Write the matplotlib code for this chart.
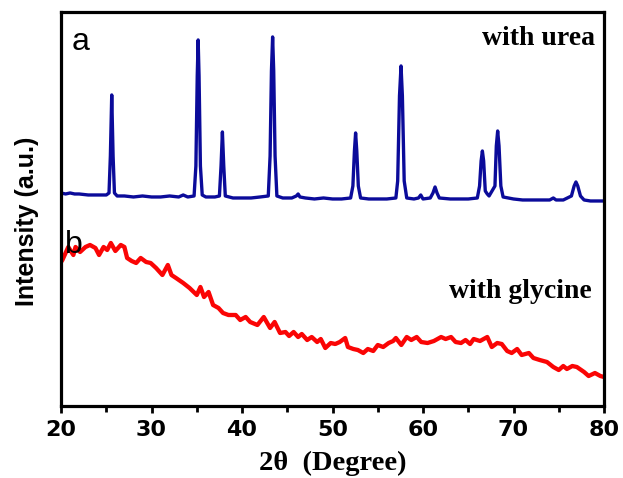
import matplotlib
matplotlib.use("Agg")
import matplotlib.pyplot as plt
from matplotlib.ticker import MultipleLocator

# (a) with urea: 2theta (deg) and intensity (a.u.)
urea_2theta = [
    20.0, 20.5, 21.0, 21.5, 22.0, 23.0, 24.0, 25.0, 25.3, 25.45, 25.6, 25.75, 25.9,
    26.2, 27.0, 28.0, 29.0, 30.0, 31.0, 32.0, 33.0, 33.5, 34.0, 34.7, 34.9, 35.05,
    35.15, 35.25, 35.4, 35.6, 36.0, 37.0, 37.5, 37.68, 37.83, 37.98, 38.15, 39.0,
    40.0, 41.0, 42.0, 42.9, 43.1, 43.25, 43.38, 43.5, 43.65, 43.85, 44.5, 45.5,
    46.0, 46.2, 46.4, 47.0, 48.0, 49.0, 50.0, 51.0, 52.0, 52.25, 52.42, 52.55,
    52.68, 52.85, 53.1, 54.0, 55.0, 56.0, 57.0, 57.2, 57.4, 57.57, 57.72, 57.92,
    58.2, 59.0, 59.5, 59.75, 60.0, 60.8, 61.1, 61.33, 61.55, 61.8, 63.0, 64.0,
    65.0, 66.0, 66.25, 66.42, 66.56, 66.7, 66.88, 67.1, 67.3, 67.95, 68.1, 68.25,
    68.4, 68.6, 68.85, 70.0, 71.0, 72.0, 73.0, 74.0, 74.4, 74.7, 75.5, 76.4, 76.7,
    76.9, 77.1, 77.4, 77.8, 78.5, 79.0, 80.0,
]
urea_int = [
    213, 212, 213, 212, 212, 211, 211, 211, 213, 250, 311, 250, 213,
    210, 210, 209, 210, 209, 209, 210, 209, 211, 209, 210, 240, 330,
    366, 330, 240, 211, 209, 209, 210, 240, 274, 240, 210, 208,
    208, 208, 209, 210, 250, 335, 369, 335, 250, 210, 208, 208,
    210, 212, 209, 208, 207, 208, 207, 207, 208, 220, 255, 273,
    255, 220, 208, 207, 207, 207, 208, 225, 310, 340, 310, 225,
    208, 207, 208, 211, 207, 208, 213, 219, 213, 208, 207, 207,
    207, 208, 220, 245, 255, 245, 215, 212, 210, 220, 260, 275,
    260, 220, 209, 207, 206, 206, 206, 206, 208, 206, 206, 210, 220,
    224, 220, 210, 206, 205, 205, 205,
]

# (b) with glycine
gly_2theta = [
    20.0, 20.15, 20.8, 21.36, 21.6, 22.1, 22.7, 23.2, 23.8, 24.2, 24.7, 25.1, 25.5,
    26.0, 26.6, 27.0, 27.3, 27.8, 28.3, 28.8, 29.4, 29.9, 30.5, 31.2, 31.8, 32.2,
    32.7, 33.5, 34.2, 35.0, 35.4, 35.8, 36.3, 36.8, 37.4, 37.9, 38.5, 39.3, 39.8,
    40.4, 40.9, 41.7, 42.4, 43.1, 43.6, 44.2, 44.8, 45.2, 45.7, 46.2, 46.6, 47.2,
    47.7, 48.3, 48.7, 49.2, 49.8, 50.3, 50.8, 51.4, 51.7, 52.3, 52.8, 53.4, 53.9,
    54.5, 55.0, 55.6, 56.2, 56.7, 57.0, 57.6, 58.2, 58.7, 59.3, 59.8, 60.5, 61.2,
    62.0, 62.5, 63.1, 63.6, 64.2, 64.7, 65.2, 65.6, 66.3, 67.1, 67.6, 68.2, 68.7,
    69.3, 69.8, 70.4, 70.9, 71.7, 72.2, 72.9, 73.7, 74.4, 75.0, 75.5, 75.9, 76.5,
    77.0, 77.8, 78.3, 79.0, 79.6, 80.0,
]
gly_int = [
    144, 146, 159, 151, 159, 154, 159, 161, 158, 151, 159, 156, 163,
    155, 161, 159, 148, 145, 143, 148, 144, 143, 138, 131, 141, 131,
    128, 123, 118, 111, 119, 109, 114, 101, 98, 93, 91, 91, 86,
    89, 84, 81, 89, 78, 84, 73, 74, 70, 74, 69, 72, 66,
    69, 64, 67, 58, 63, 62, 64, 68, 59, 57, 56, 53, 57,
    55, 61, 59, 63, 65, 68, 61, 69, 66, 69, 64, 63, 65,
    69, 67, 69, 64, 63, 66, 62, 67, 65, 69, 59, 63, 62,
    55, 53, 57, 51, 53, 48, 46, 44, 39, 36, 40, 37, 40,
    39, 34, 30, 33, 30, 29,
]

x_ticks = [20, 30, 40, 50, 60, 70, 80]

fig = plt.figure(figsize=(6.23, 4.78), dpi=100)
ax = fig.add_axes([0.098, 0.1506, 0.8715, 0.8244])

ax.plot(urea_2theta, urea_int, color="#0b0b9a", lw=2.4, solid_joinstyle="round")
ax.plot(gly_2theta, gly_int, color="#fa0505", lw=3.1, solid_joinstyle="round")

ax.set_xlim(20, 80)
ax.set_ylim(0, 394)
ax.set_xticks(x_ticks)
ax.xaxis.set_minor_locator(MultipleLocator(5))
ax.set_yticks([])
ax.tick_params(axis="x", which="major", direction="out", length=5, width=2, pad=5)
ax.tick_params(axis="x", which="minor", direction="out", length=4, width=2)
for lab in ax.get_xticklabels():
    lab.set_fontfamily("DejaVu Sans")
    lab.set_fontweight("bold")
    lab.set_fontsize(16)
for sp in ax.spines.values():
    sp.set_linewidth(2.3)

serif = "Liberation Serif"
ax.text(0.02, 0.904, "a", transform=ax.transAxes, fontsize=23,
        family="Liberation Sans", va="baseline", ha="left")
ax.text(0.007, 0.388, "b", transform=ax.transAxes, fontsize=23,
        family="Liberation Sans", va="baseline", ha="left")
ax.text(0.983, 0.916, "with urea", transform=ax.transAxes, fontsize=20,
        family=serif, weight="bold", va="baseline", ha="right")
ax.text(0.978, 0.274, "with glycine", transform=ax.transAxes, fontsize=20,
        family=serif, weight="bold", va="baseline", ha="right")

fig.text(27 / 623, 1 - 221 / 478, "Intensity (a.u.)", rotation=90,
         fontsize=18, family="Liberation Sans", weight="bold",
         ha="center", va="center")
fig.text(333 / 623, 1 - 470 / 478, "2\u03b8  (Degree)", fontsize=20.5,
         family=serif, weight="bold", ha="center", va="baseline")

fig.savefig("out.png", dpi=100)
